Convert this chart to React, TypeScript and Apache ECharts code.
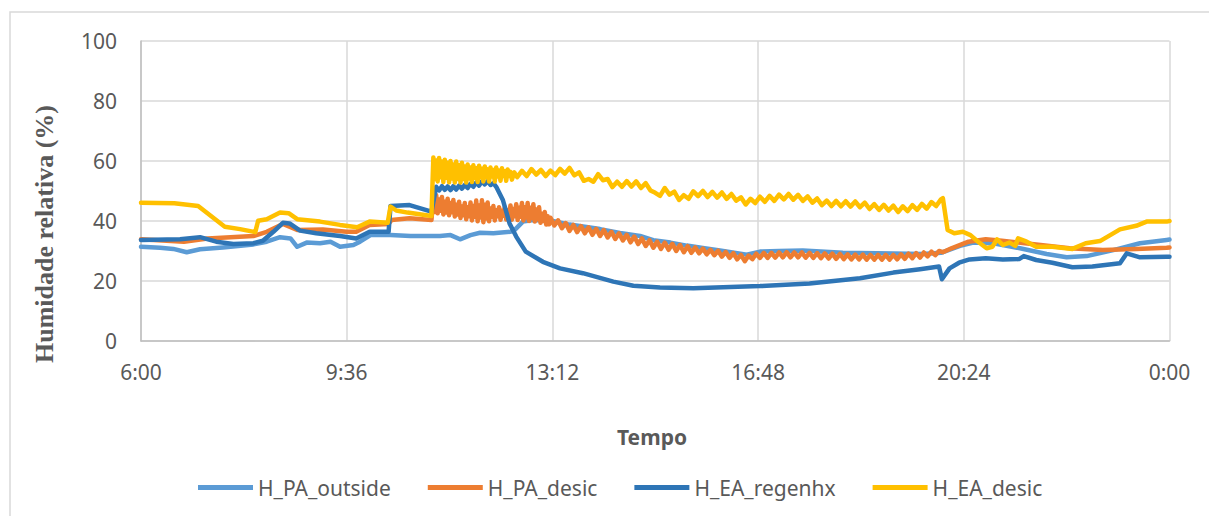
import React, { useEffect, useRef } from "react";
import * as echarts from "echarts";

// Time is stored as minutes after 6:00; values are relative humidity (%).
const xTickStep = 216; // 3 h 36 min
const xMax = 1080; // 6:00 -> 0:00
const yTicks = [0, 20, 40, 60, 80, 100];

const seriesNames = ["H_PA_outside", "H_PA_desic", "H_EA_regenhx", "H_EA_desic"];
const seriesColors = ["#5B9BD5", "#ED7D31", "#2E75B6", "#FFC000"];

const paOutside: [number, number][] = [
  [0, 31.4], [20, 31.1], [34, 30.7], [48, 29.6], [62, 30.6], [86, 31.2], [118, 32.2], [132, 33.1],
  [146, 34.6], [157, 34.2], [164, 31.4], [174, 32.8], [188, 32.6], [199, 33.1], [209, 31.4], [223, 32.0],
  [230, 33.1], [241, 35.3], [262, 35.3], [283, 35.0], [314, 35.0], [325, 35.3], [335, 33.9], [346, 35.3],
  [356, 36.1], [370, 35.9], [388, 36.4], [393, 37.2], [401, 39.8], [412, 40.3], [430, 40.2], [450, 38.8],
  [482, 37.3], [503, 36.0], [524, 35.0], [538, 33.6], [556, 32.8], [573, 31.8], [590, 31.0], [608, 30.2],
  [636, 28.8], [650, 29.8], [670, 30.0], [695, 30.2], [737, 29.4], [790, 29.2], [821, 29.0], [840, 29.4],
  [860, 31.7], [874, 32.8], [895, 32.6], [923, 30.9], [951, 29.0], [972, 27.9], [993, 28.3], [1021, 30.3],
  [1049, 32.6], [1077, 33.7], [1080, 33.8],
];

const paDesic: [number, number][] = [
  [0, 33.9], [45, 33.1], [70, 34.2], [118, 35.0], [132, 36.4], [149, 39.0], [164, 37.0], [191, 37.2],
  [216, 36.4], [226, 36.4], [240, 38.7], [260, 39.0], [263, 40.3], [282, 40.9], [305, 40.3],
  [307, 48.2], [308.5, 43.0], [310, 48.6], [311.5, 42.6], [313, 47.2], [314.5, 43.4], [316, 48.0], [317.5, 42.2],
  [319, 46.4], [320.5, 42.8], [322, 47.4], [323.5, 41.9], [325, 46.0], [326.5, 42.9], [328, 47.0], [329.5, 41.5],
  [331, 45.4], [332.5, 42.2], [334, 46.4], [335.5, 41.0], [337, 44.8], [338.5, 41.9], [340, 46.0], [341.5, 40.6],
  [343, 44.6], [344.5, 41.6], [346, 46.2], [347.5, 40.2], [349, 45.0], [350.5, 41.4], [352, 46.8], [353.5, 39.9],
  [355, 45.2], [356.5, 41.2], [358, 46.9], [359.5, 39.6], [361, 45.4], [362.5, 40.8], [364, 46.2], [365.5, 39.9],
  [367, 44.2], [368.5, 41.4], [370, 45.0], [371.5, 40.2], [373, 43.6], [374.5, 41.6], [376, 44.6], [377.5, 40.4],
  [379, 43.4], [380.5, 41.8], [382, 44.6], [383.5, 40.5], [385, 43.6], [386.5, 41.7], [388, 45.2], [389.5, 40.4],
  [391, 44.0], [392.5, 41.6], [394, 45.6], [395.5, 40.3], [397, 44.4], [398.5, 41.4], [400, 46.0], [401.5, 40.2],
  [403, 44.6], [404.5, 41.2], [406, 46.0], [407.5, 40.0], [409, 44.4], [410.5, 41.0], [412, 45.6], [413.5, 39.8],
  [415, 43.8], [416.5, 40.6], [418, 44.6], [419.5, 39.4], [421, 42.4], [422.5, 40.0], [424, 43.0], [425.5, 38.8],
  [427, 41.6], [428.5, 38.9],
  [430, 41.1], [434, 38.5], [438, 40.2], [442, 37.6], [446, 39.3], [450, 36.7], [454, 38.7], [458, 36.3],
  [462, 38.3], [466, 35.9], [470, 37.9], [474, 35.4], [478, 37.4], [482, 35.0], [486, 37.0], [490, 34.5],
  [494, 36.4], [498, 34.0], [502, 35.9], [506, 33.5], [510, 35.4], [514, 32.9], [518, 34.8], [522, 32.3],
  [526, 34.2], [530, 31.7], [534, 33.6], [538, 31.1], [542, 33.1], [546, 30.7], [550, 32.8], [554, 30.4],
  [558, 32.4], [562, 30.0], [566, 32.0], [570, 29.6], [574, 31.6], [578, 29.4], [582, 31.2], [586, 29.2],
  [590, 30.8], [594, 28.9], [598, 30.4], [602, 28.6], [606, 30.1], [610, 28.1], [614, 29.7], [618, 27.7],
  [622, 29.3], [626, 27.2], [630, 28.7], [634, 26.6], [638, 28.5], [642, 27.3], [646, 29.1], [650, 27.7],
  [654, 29.4], [658, 27.7], [662, 29.4], [666, 27.8], [670, 29.5], [674, 27.9], [678, 29.6], [682, 27.9],
  [686, 29.5], [690, 27.9], [694, 29.5], [698, 27.8], [702, 29.4], [706, 27.7], [710, 29.3], [714, 27.6],
  [718, 29.2], [722, 27.5], [726, 29.1], [730, 27.4], [734, 29.0], [738, 27.3], [742, 28.9], [746, 27.2],
  [750, 28.8], [754, 27.2], [758, 28.8], [762, 27.1], [766, 28.7], [770, 27.1], [774, 28.7], [778, 27.1],
  [782, 28.7], [786, 27.1], [790, 28.7], [794, 27.2], [798, 28.9], [802, 27.4], [806, 29.1], [810, 27.6],
  [814, 29.3], [818, 27.8], [822, 29.5], [826, 28.2], [830, 29.8], [834, 28.6], [838, 30.0], [842, 29.6],
  [851, 30.9], [869, 33.1], [887, 33.9], [904, 33.4], [940, 32.2], [975, 30.9], [1010, 30.3], [1045, 30.7],
  [1077, 31.1], [1080, 31.2],
];

const eaRegenhx: [number, number][] = [
  [0, 33.7], [41, 33.9], [62, 34.6], [79, 33.1], [97, 32.3], [118, 32.6], [128, 33.4], [139, 36.4],
  [149, 39.4], [156, 39.2], [167, 36.8], [184, 35.9], [209, 35.0], [226, 34.2], [240, 36.4], [260, 36.4],
  [262, 45.0], [282, 45.3], [305, 43.1], [310, 51.4], [313, 50.2], [316, 51.6], [319, 50.4], [322, 51.5],
  [325, 50.3], [328, 51.6], [331, 50.5], [334, 51.8], [337, 50.8], [340, 52.0], [343, 51.0], [346, 52.4],
  [349, 51.4], [352, 52.8], [355, 51.8], [358, 53.2], [361, 52.2], [364, 53.3], [367, 52.0], [370, 52.6],
  [373, 51.4], [380, 47.0], [387, 39.2], [394, 34.8], [404, 29.8], [422, 26.4], [440, 24.2], [464, 22.6],
  [496, 19.8], [517, 18.4], [545, 17.8], [580, 17.6], [650, 18.3], [702, 19.2], [755, 20.9], [790, 22.8],
  [818, 23.9], [838, 24.8], [841, 20.6], [849, 24.2], [859, 26.1], [870, 27.2], [887, 27.6], [905, 27.2],
  [922, 27.3], [927, 28.3], [940, 27.0], [957, 26.1], [978, 24.6], [999, 24.8], [1028, 25.9], [1035, 29.2],
  [1049, 27.9], [1077, 28.1], [1080, 28.1],
];

const eaDesic: [number, number][] = [
  [0, 46.1], [35, 45.9], [60, 45.0], [88, 38.1], [104, 37.3], [120, 36.3], [123, 40.1], [132, 40.6],
  [146, 42.8], [155, 42.6], [164, 40.6], [188, 39.8], [209, 38.7], [227, 37.9], [240, 39.8], [259, 39.4],
  [262, 44.8], [268, 43.5], [280, 42.8], [305, 41.7],
  [307, 61.2], [308.5, 54.0], [310, 60.2], [311.5, 53.2], [313, 61.0], [314.5, 54.6], [316, 59.8], [317.5, 53.0],
  [319, 60.4], [320.5, 54.4], [322, 59.4], [323.5, 52.9], [325, 60.0], [326.5, 54.2], [328, 58.8], [329.5, 52.8],
  [331, 59.8], [332.5, 54.0], [334, 58.6], [335.5, 52.8], [337, 59.4], [338.5, 54.0], [340, 58.2], [341.5, 52.8],
  [343, 58.8], [344.5, 54.2], [346, 57.8], [347.5, 53.0], [349, 58.6], [350.5, 54.4], [352, 57.6], [353.5, 53.0],
  [355, 58.4], [356.5, 54.6], [358, 57.4], [359.5, 53.2], [361, 58.2], [362.5, 54.6], [364, 57.2], [365.5, 53.2],
  [367, 57.8], [368.5, 54.8], [370, 57.0], [371.5, 53.2], [373, 57.8], [374.5, 54.8], [376, 56.8], [377.5, 53.4],
  [379, 57.6], [380.5, 55.0], [382, 56.6], [383.5, 53.4], [385, 57.2], [386.5, 55.0], [388, 56.4], [389.5, 53.8],
  [392, 56.2], [395, 54.6], [400, 56.7], [405, 55.0], [410, 57.3], [415, 55.5], [420, 57.0], [425, 55.0],
  [430, 56.8], [435, 55.3], [440, 57.4], [445, 55.8], [450, 57.7], [455, 55.2], [460, 56.2], [465, 53.4],
  [470, 54.0], [475, 53.1], [480, 55.6], [485, 53.6], [490, 54.0], [495, 51.3], [500, 53.1], [505, 51.4],
  [510, 53.3], [515, 51.5], [520, 53.2], [525, 51.0], [530, 52.6], [535, 50.2], [540, 49.4], [545, 48.4],
  [550, 51.0], [555, 48.8], [560, 49.8], [565, 47.0], [570, 48.6], [575, 47.4], [580, 49.9], [585, 48.3],
  [590, 50.0], [595, 48.0], [600, 49.7], [605, 47.8], [610, 49.5], [615, 47.4], [620, 49.0], [625, 46.8],
  [630, 47.9], [635, 45.5], [640, 47.4], [645, 46.0], [650, 48.1], [655, 46.4], [660, 48.4], [665, 46.7],
  [670, 48.8], [675, 47.2], [680, 49.0], [685, 47.1], [690, 48.7], [695, 46.7], [700, 48.2], [705, 46.1],
  [710, 47.5], [715, 45.3], [720, 46.8], [725, 45.0], [730, 46.7], [735, 44.9], [740, 46.6], [745, 44.8],
  [750, 46.5], [755, 44.6], [760, 46.1], [765, 44.0], [770, 45.6], [775, 43.7], [780, 45.4], [785, 43.5],
  [790, 45.1], [795, 43.0], [800, 44.9], [805, 43.3], [810, 45.3], [815, 43.7], [820, 45.7], [825, 44.1],
  [830, 46.3], [835, 45.0], [840, 47.2], [842, 47.6],
  [847, 37.0], [854, 35.9], [863, 36.4], [871, 35.3], [879, 33.1], [888, 30.9], [894, 31.4], [899, 33.9],
  [905, 32.0], [912, 32.8], [918, 31.7], [921, 34.2], [930, 33.1], [940, 31.4], [957, 31.4], [978, 30.7],
  [992, 32.6], [1007, 33.3], [1028, 37.2], [1045, 38.4], [1056, 39.8], [1077, 39.8], [1080, 40.0],
];

const seriesData = [paOutside, paDesic, eaRegenhx, eaDesic];

const textGray = "#595959";
const sansFont = "'Noto Sans', 'Open Sans', sans-serif";

function clockLabel(minutesAfterSix: number): string {
  const total = 360 + Math.round(minutesAfterSix);
  const h = Math.floor(total / 60) % 24;
  const m = total % 60;
  return `${h}:${m < 10 ? "0" + m : m}`;
}

export default function App() {
  const ref = useRef<HTMLDivElement>(null);

  useEffect(() => {
    if (!ref.current) return;
    const chart = echarts.init(ref.current, null, { renderer: "svg" });
    chart.setOption({
      animation: false,
      backgroundColor: "#ffffff",
      color: seriesColors,
      grid: { left: 141, top: 41, width: 1028.5, height: 300, containLabel: false },
      xAxis: {
        type: "value",
        min: 0,
        max: xMax,
        interval: xTickStep,
        axisLine: { show: true, lineStyle: { color: "#bfbfbf", width: 1.5 } },
        axisTick: { show: false },
        splitLine: { show: true, lineStyle: { color: "#d9d9d9", width: 1.5 } },
        axisLabel: {
          formatter: (v: number) => clockLabel(v),
          color: textGray,
          fontFamily: sansFont,
          fontSize: 21,
          margin: 20,
        },
      },
      yAxis: {
        type: "value",
        min: yTicks[0],
        max: yTicks[yTicks.length - 1],
        interval: yTicks[1] - yTicks[0],
        axisLine: { show: true, lineStyle: { color: "#bfbfbf", width: 1.5 } },
        axisTick: { show: false },
        splitLine: { show: true, lineStyle: { color: "#d9d9d9", width: 1.5 } },
        axisLabel: {
          color: textGray,
          fontFamily: sansFont,
          fontSize: 21,
          margin: 24,
        },
      },
      legend: {
        left: 193,
        top: 472,
        itemWidth: 55,
        itemHeight: 14,
        itemGap: 37,
        icon: "path://M0,4.5 L55,4.5 L55,9.5 L0,9.5 Z",
        textStyle: { color: textGray, fontFamily: sansFont, fontSize: 21 },
        data: seriesNames,
      },
      graphic: [
        {
          type: "rect",
          shape: { x: 10, y: 12, width: 1240, height: 560 },
          style: { fill: "none", stroke: "#d9d9d9", lineWidth: 1.5 },
          silent: true,
        },
        {
          type: "text",
          x: 44,
          y: 234,
          rotation: Math.PI / 2,
          style: {
            text: "Humidade relativa (%)",
            fontFamily: "'Liberation Serif', 'Times New Roman', serif",
            fontWeight: "bold",
            fontSize: 26,
            fill: textGray,
            align: "center",
            verticalAlign: "middle",
          },
        },
        {
          type: "text",
          x: 652,
          y: 437,
          style: {
            text: "Tempo",
            fontFamily: sansFont,
            fontWeight: "bold",
            fontSize: 21,
            fill: textGray,
            align: "center",
            verticalAlign: "middle",
          },
        },
      ],
      series: seriesNames.map((name, i) => ({
        name,
        type: "line",
        data: seriesData[i],
        symbol: "none",
        smooth: false,
        lineStyle: { width: 4.5, color: seriesColors[i], join: "round", cap: "round" },
        itemStyle: { color: seriesColors[i] },
      })),
    });
    return () => chart.dispose();
  }, []);

  return (
    <div
      ref={ref}
      style={{ position: "fixed", left: 0, top: 0, width: 1209, height: 516, background: "#fff" }}
    />
  );
}
